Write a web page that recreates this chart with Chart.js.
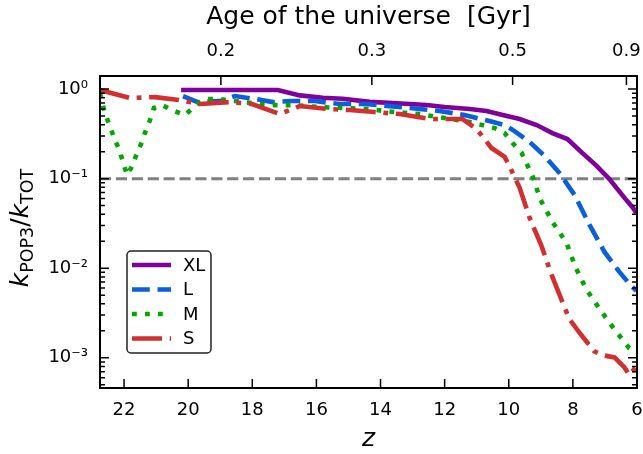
<!DOCTYPE html>
<html>
<head>
<meta charset="utf-8">
<script src="https://cdn.jsdelivr.net/npm/chart.js@4"></script>
<style>
  html, body { margin: 0; padding: 0; background: #fff; }
  #wrap { width: 643px; height: 454px; }
</style>
</head>
<body>
<div id="wrap"><canvas id="popChart" width="643" height="454"></canvas></div>
<script>
// redshift samples and k_POP3/k_TOT per run
const zXL = [20.22, 17.2, 16.52, 15.8, 15.18, 14.34, 13.62, 12.56, 12.0, 11.22, 10.69, 10.19, 9.66, 9.13, 8.64, 8.17, 7.7, 7.26, 6.86, 6.39, 6.14, 6.02];
const kXL = [0.975, 0.975, 0.85, 0.8, 0.78, 0.72, 0.7, 0.665, 0.63, 0.6, 0.57, 0.513, 0.463, 0.397, 0.323, 0.277, 0.193, 0.139, 0.099, 0.061, 0.048, 0.0414];

const zL = [20.16, 19.7, 19.0, 18.54, 17.89, 17.36, 16.83, 16.05, 15.27, 14.49, 13.71, 12.93, 12.16, 11.38, 10.6, 10.13, 9.82, 9.35, 8.88, 8.42, 7.95, 7.48, 7.02, 6.55, 6.24, 6.02];
const kL = [0.836, 0.716, 0.735, 0.836, 0.774, 0.716, 0.735, 0.735, 0.681, 0.681, 0.646, 0.606, 0.569, 0.513, 0.44, 0.397, 0.34, 0.257, 0.179, 0.116, 0.066, 0.0305, 0.0153, 0.0091, 0.0067, 0.0056];

const zM = [22.75, 22.59, 22.44, 22.31, 22.16, 22.03, 21.91, 21.78, 21.63, 21.47, 21.35, 21.19, 21.07, 20.82, 20.44, 20.1, 19.79, 19.48, 19.1, 18.54, 17.51, 16.74, 15.89, 15.11, 14.4, 13.56, 12.78, 12.0, 11.22, 10.44, 10.13, 9.88, 9.6, 9.26, 9.01, 8.64, 8.2, 7.92, 7.58, 7.14, 6.67, 6.24, 6.02];
const kM = [0.9, 0.526, 0.387, 0.284, 0.214, 0.154, 0.11, 0.132, 0.179, 0.244, 0.323, 0.451, 0.614, 0.663, 0.569, 0.513, 0.646, 0.774, 0.774, 0.735, 0.663, 0.663, 0.63, 0.614, 0.598, 0.554, 0.527, 0.475, 0.429, 0.367, 0.323, 0.25, 0.194, 0.107, 0.058, 0.033, 0.0192, 0.0103, 0.0058, 0.0034, 0.002, 0.00128, 0.00115];

const zS = [22.75, 21.81, 21.03, 20.26, 19.63, 18.7, 18.01, 17.14, 16.52, 15.58, 14.96, 14.18, 13.4, 12.47, 11.44, 11.0, 10.54, 10.13, 9.98, 9.66, 9.35, 8.98, 8.7, 8.35, 8.11, 7.79, 7.33, 7.02, 6.7, 6.39, 6.24, 6.02];
const kS = [0.975, 0.794, 0.814, 0.754, 0.681, 0.716, 0.681, 0.527, 0.646, 0.598, 0.583, 0.554, 0.527, 0.463, 0.463, 0.358, 0.22, 0.175, 0.139, 0.079, 0.0365, 0.0178, 0.0091, 0.0044, 0.0027, 0.0019, 0.00118, 0.00106, 0.00101, 0.00078, 0.00064, 0.0008];

const refLevel = 0.1;
const zTicks = [22, 20, 18, 16, 14, 12, 10, 8, 6];
const kTicks = [1, 0.1, 0.01, 0.001];
const ageTickZ = [18.98, 14.27, 9.88, 6.33];
const ageTickLabels = ['0.2', '0.3', '0.5', '0.9'];

const lw = 4.6;
const FONT = '"DejaVu Sans", "Liberation Sans", sans-serif';
Chart.defaults.font.family = FONT;
Chart.defaults.color = '#000';

const pairs = (zs, ks) => zs.map((z, i) => ({ x: z, y: ks[i] }));

function supLabel(v) {
  const sup = { '-': '\u207B', '0': '\u2070', '1': '\u00B9', '2': '\u00B2', '3': '\u00B3', '4': '\u2074', '5': '\u2075', '6': '\u2076', '7': '\u2077', '8': '\u2078', '9': '\u2079' };
  const e = String(Math.round(Math.log10(v)));
  return '10' + e.split('').map(c => sup[c]).join('');
}

function noPad(s) {
  s.paddingLeft = 0; s.paddingRight = 0; s.paddingTop = 0; s.paddingBottom = 0;
}

const framePlugin = {
  id: 'frame',
  afterDatasetsDraw(chart) {
    const { ctx, chartArea: a, scales } = chart;
    ctx.save();
    ctx.strokeStyle = '#000';
    ctx.lineWidth = 1.5;
    ctx.beginPath();
    zTicks.forEach(z => {
      const px = scales.x.getPixelForValue(z);
      ctx.moveTo(px, a.bottom); ctx.lineTo(px, a.bottom - 9);
    });
    ageTickZ.forEach(z => {
      const px = scales.xTop.getPixelForValue(z);
      ctx.moveTo(px, a.top); ctx.lineTo(px, a.top + 9);
    });
    for (let e = -4; e <= 0; e++) {
      for (let m = 1; m <= 9; m++) {
        const v = m * Math.pow(10, e);
        if (v < scales.y.min || v > scales.y.max) continue;
        const py = scales.y.getPixelForValue(v);
        const len = m === 1 ? 9 : 5;
        ctx.moveTo(a.left, py); ctx.lineTo(a.left + len, py);
        ctx.moveTo(a.right, py); ctx.lineTo(a.right - len, py);
      }
    }
    ctx.stroke();
    ctx.lineWidth = 2;
    ctx.strokeRect(a.left, a.top, a.right - a.left, a.bottom - a.top);

    // legend
    const bx = 127, by = 251, bw = 84, bh = 102, row = 24.5;
    ctx.beginPath();
    ctx.roundRect(bx, by, bw, bh, 4);
    ctx.fillStyle = 'rgba(255,255,255,0.85)';
    ctx.fill();
    ctx.lineWidth = 1.5;
    ctx.strokeStyle = '#222';
    ctx.stroke();
    chart.data.datasets.filter(ds => ds.label).forEach((ds, i) => {
      const cy = by + 14 + i * row;
      ctx.strokeStyle = ds.borderColor;
      ctx.lineWidth = ds.borderWidth;
      ctx.setLineDash(ds.borderDash || []);
      ctx.beginPath();
      ctx.moveTo(bx + 5, cy); ctx.lineTo(bx + 44, cy);
      ctx.stroke();
      ctx.setLineDash([]);
      ctx.fillStyle = '#000';
      ctx.font = '18px ' + FONT;
      ctx.textBaseline = 'middle';
      ctx.textAlign = 'left';
      ctx.fillText(ds.label, bx + 56, cy + 1);
    });
    ctx.restore();
  },
  afterDraw(chart) {
    // y axis title with subscripts
    const ctx = chart.ctx;
    const big = 25, small = 17.5;
    const parts = [
      { t: 'k', f: 'italic ' + big + 'px ' + FONT, dy: 0 },
      { t: 'POP3', f: small + 'px ' + FONT, dy: 5 },
      { t: '/', f: big + 'px ' + FONT, dy: 0 },
      { t: 'k', f: 'italic ' + big + 'px ' + FONT, dy: 0 },
      { t: 'TOT', f: small + 'px ' + FONT, dy: 5 }
    ];
    ctx.save();
    let total = 0;
    parts.forEach(p => { ctx.font = p.f; p.w = ctx.measureText(p.t).width; total += p.w; });
    ctx.translate(28, 228 + total / 2);
    ctx.rotate(-Math.PI / 2);
    ctx.fillStyle = '#000';
    ctx.textBaseline = 'alphabetic';
    ctx.textAlign = 'left';
    let x = 0;
    parts.forEach(p => { ctx.font = p.f; ctx.fillText(p.t, x, p.dy); x += p.w; });
    ctx.restore();
  }
};

new Chart(document.getElementById('popChart'), {
  type: 'line',
  data: {
    datasets: [
      { label: 'XL', data: pairs(zXL, kXL), borderColor: '#80009c', borderWidth: lw, order: 4 },
      { label: 'L', data: pairs(zL, kL), borderColor: '#0a5fdc', borderWidth: lw, borderDash: [17.8, 7.7], order: 3 },
      { label: 'M', data: pairs(zM, kM), borderColor: '#00a800', borderWidth: lw, borderDash: [4.8, 8.2], order: 2 },
      { label: 'S', data: pairs(zS, kS), borderColor: '#d22f2f', borderWidth: lw, borderDash: [30, 7.7, 4.8, 7.7], order: 1 },
      { label: '', data: [{ x: 22.75, y: refLevel }, { x: 6, y: refLevel }], borderColor: '#808080', borderWidth: 3, borderDash: [11.1, 4.8], order: 5 }
    ]
  },
  options: {
    responsive: false,
    devicePixelRatio: 1,
    animation: false,
    layout: { padding: { left: 0, right: 6, top: 0, bottom: 0 } },
    elements: { point: { radius: 0 }, line: { tension: 0, fill: false, borderCapStyle: 'butt', borderJoinStyle: 'miter' } },
    plugins: { legend: { display: false }, tooltip: { enabled: false } },
    scales: {
      x: {
        type: 'linear', position: 'bottom', min: 6, max: 22.75, reverse: true,
        grid: { display: false, drawTicks: false }, border: { display: false },
        ticks: { padding: 12, font: { size: 18 }, maxRotation: 0, autoSkip: false },
        afterBuildTicks: s => { s.ticks = zTicks.map(v => ({ value: v })); },
        afterFit: s => { s.height = 66; noPad(s); },
        title: { display: true, text: 'z', font: { size: 25, style: 'italic', lineHeight: 1 }, padding: { top: 0, bottom: 2 } }
      },
      xTop: {
        type: 'linear', position: 'top', min: 6, max: 22.75, reverse: true,
        grid: { display: false, drawTicks: false }, border: { display: false },
        ticks: { padding: 14, font: { size: 18 }, maxRotation: 0, autoSkip: false, callback: (v, i) => ageTickLabels[i] },
        afterBuildTicks: s => { s.ticks = ageTickZ.map(v => ({ value: v })); },
        afterFit: s => { s.height = 76; noPad(s); },
        title: { display: true, text: 'Age of the universe  [Gyr]', font: { size: 25, lineHeight: 1 }, padding: { top: 5, bottom: 0 } }
      },
      y: {
        type: 'logarithmic', min: 4.6e-4, max: 1.4,
        grid: { display: false, drawTicks: false }, border: { display: false },
        ticks: { padding: 12, font: { size: 18 }, autoSkip: false, callback: v => supLabel(v) },
        afterBuildTicks: s => { s.ticks = kTicks.map(v => ({ value: v })); },
        afterFit: s => { s.width = 100; noPad(s); }
      }
    }
  },
  plugins: [framePlugin]
});
</script>
</body>
</html>
